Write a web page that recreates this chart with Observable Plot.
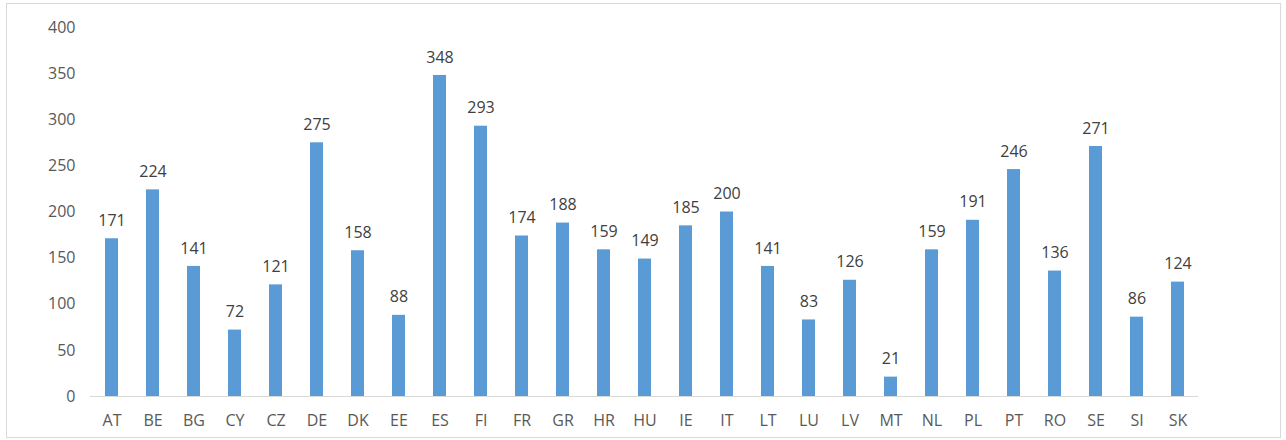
<!DOCTYPE html>
<html>
<head>
<meta charset="utf-8">
<script src="https://cdn.jsdelivr.net/npm/d3@7"></script>
<script src="https://cdn.jsdelivr.net/npm/@observablehq/plot@0.6"></script>
<style>
  html, body { margin: 0; padding: 0; background: #fff; }
  #wrap { position: relative; width: 1286px; height: 440px; }
  #border { position: absolute; left: 6px; top: 3px; width: 1273px; height: 433px; border: 1px solid #d9d9d9; pointer-events: none; }
</style>
</head>
<body>
<div id="wrap"><div id="border"></div></div>
<script>
const countries = ["AT","BE","BG","CY","CZ","DE","DK","EE","ES","FI","FR","GR","HR","HU","IE","IT","LT","LU","LV","MT","NL","PL","PT","RO","SE","SI","SK"];
const values = [171,224,141,72,121,275,158,88,348,293,174,188,159,149,185,200,141,83,126,21,159,191,246,136,271,86,124];
const yTicks = [0,50,100,150,200,250,300,350,400];

const data = countries.map((c, i) => ({country: c, value: values[i]}));

const chart = Plot.plot({
  width: 1286,
  height: 440,
  marginLeft: 90,
  marginRight: 88,
  marginTop: 27,
  marginBottom: 44,
  style: {fontFamily: "'Open Sans', sans-serif", fontSize: "16px", color: "#595959", background: "transparent"},
  x: {domain: countries, padding: 0, label: null, tickSize: 0, tickPadding: 18},
  y: {domain: [0, 400], ticks: yTicks, label: null, tickSize: 0, tickPadding: 15},
  marks: [
    Plot.barY(data, {x: "country", y: "value", fill: "#5b9bd5", insetLeft: 14, insetRight: 14}),
    Plot.ruleY([0], {stroke: "#d9d9d9"}),
    Plot.text(data, {x: "country", y: "value", text: d => String(d.value), dy: -18, fill: "#404040", fontSize: 16})
  ]
});
document.getElementById("wrap").prepend(chart);
</script>
</body>
</html>
